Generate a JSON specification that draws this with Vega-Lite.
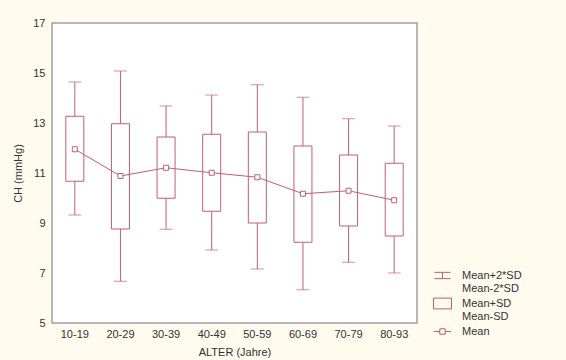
{
  "$schema": "https://vega.github.io/schema/vega-lite/v6.json",
  "width": 365,
  "height": 300,
  "autosize": {"type": "none"},
  "padding": {"left": 52, "top": 23, "right": 149, "bottom": 37},
  "background": "#fffbee",
  "config": {
    "font": "Liberation Sans",
    "view": {"fill": "#ffffff", "stroke": "#a0a0a0", "strokeWidth": 1.5},
    "axis": {"labelFont": "Liberation Sans", "titleFont": "Liberation Sans", "labelColor": "#333333", "titleColor": "#333333", "labelFontSize": 11, "titleFontSize": 11, "titleFontWeight": "normal", "grid": false, "domain": false}
  },
  "data": {
    "values": [
      {"group": "10-19", "lo2": 9.32, "lo1": 10.67, "mean": 11.95, "hi1": 13.27, "hi2": 14.64},
      {"group": "20-29", "lo2": 6.67, "lo1": 8.76, "mean": 10.88, "hi1": 12.97, "hi2": 15.08},
      {"group": "30-39", "lo2": 8.75, "lo1": 9.99, "mean": 11.21, "hi1": 12.44, "hi2": 13.68},
      {"group": "40-49", "lo2": 7.92, "lo1": 9.47, "mean": 11.01, "hi1": 12.55, "hi2": 14.12},
      {"group": "50-59", "lo2": 7.16, "lo1": 9.0, "mean": 10.83, "hi1": 12.64, "hi2": 14.53},
      {"group": "60-69", "lo2": 6.33, "lo1": 8.23, "mean": 10.17, "hi1": 12.08, "hi2": 14.03},
      {"group": "70-79", "lo2": 7.43, "lo1": 8.88, "mean": 10.29, "hi1": 11.72, "hi2": 13.17},
      {"group": "80-93", "lo2": 7.0, "lo1": 8.48, "mean": 9.91, "hi1": 11.39, "hi2": 12.88}
    ]
  },
  "encoding": {
    "x": {
      "field": "group", "type": "nominal", "sort": null,
      "scale": {"type": "band", "paddingInner": 0, "paddingOuter": 0},
      "axis": {"title": "ALTER (Jahre)", "labelAngle": 0, "ticks": false, "labelPadding": 5, "titlePadding": 7}
    }
  },
  "layer": [
    {
      "mark": {"type": "rule", "color": "#c06070", "strokeWidth": 1},
      "encoding": {
        "y": {"field": "lo2", "type": "quantitative", "scale": {"domain": [5, 17], "nice": false, "zero": false},
              "axis": {"title": "CH (mmHg)", "values": [5, 7, 9, 11, 13, 15, 17], "ticks": false, "labelPadding": 7, "titlePadding": 9}},
        "y2": {"field": "hi2"}
      }
    },
    {
      "mark": {"type": "tick", "color": "#c06070", "size": 13, "thickness": 1, "orient": "horizontal"},
      "encoding": {"y": {"field": "hi2", "type": "quantitative"}}
    },
    {
      "mark": {"type": "tick", "color": "#c06070", "size": 13, "thickness": 1, "orient": "horizontal"},
      "encoding": {"y": {"field": "lo2", "type": "quantitative"}}
    },
    {
      "mark": {"type": "bar", "fill": "#ffffff", "stroke": "#c06070", "strokeWidth": 1, "size": 18},
      "encoding": {"y": {"field": "lo1", "type": "quantitative"}, "y2": {"field": "hi1"}}
    },
    {
      "mark": {"type": "line", "color": "#c06070", "strokeWidth": 1},
      "encoding": {"y": {"field": "mean", "type": "quantitative"}}
    },
    {
      "mark": {"type": "point", "shape": "square", "size": 25, "filled": true, "fill": "#ffffff", "stroke": "#c06070", "strokeWidth": 1, "opacity": 1},
      "encoding": {"y": {"field": "mean", "type": "quantitative"}}
    },
    {
      "mark": {"type": "point", "opacity": 0},
      "encoding": {
        "y": {"field": "mean", "type": "quantitative"},
        "shape": {
          "datum": "Mean",
          "type": "nominal",
          "scale": {
            "domain": ["Mean+2*SD|Mean-2*SD", "Mean+SD|Mean-SD", "Mean"],
            "range": [
              "M-0.9,-0.35H0.9M0,-0.35V0.35M-0.9,0.35H0.9",
              "M-1,-0.6H1V0.6H-1Z",
              "M-0.95,0H-0.3M0.3,0H0.95M-0.3,-0.3H0.3V0.3H-0.3Z"
            ]
          },
          "legend": {
            "title": null,
            "orient": "none",
            "legendX": 381,
            "legendY": 243,
            "padding": 0,
            "symbolSize": 324,
            "symbolOpacity": 1,
            "symbolFillColor": "#ffffff",
            "symbolStrokeColor": "#c06070",
            "symbolStrokeWidth": 1,
            "labelOffset": 10,
            "labelFont": "Liberation Sans",
            "labelFontSize": 11,
            "labelColor": "#333333",
            "labelBaseline": "middle",
            "labelExpr": "split(datum.label, '|')",
            "rowPadding": -1
          }
        }
      }
    }
  ]
}
